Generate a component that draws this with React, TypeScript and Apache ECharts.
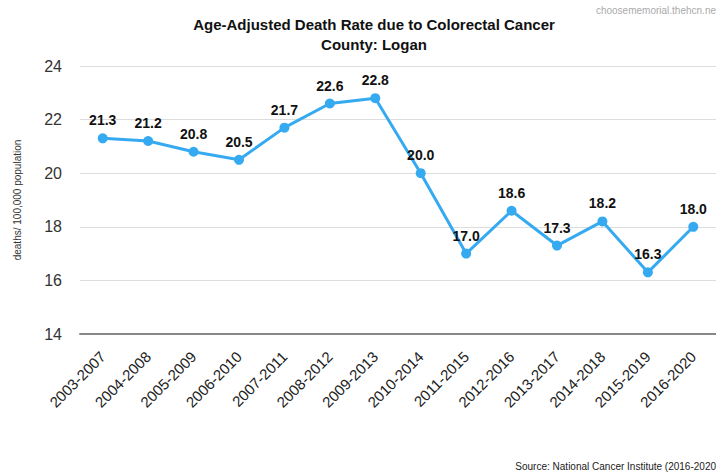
import React, { useEffect, useRef } from "react";
import * as echarts from "echarts";

const categories = [
  "2003-2007", "2004-2008", "2005-2009", "2006-2010", "2007-2011", "2008-2012", "2009-2013",
  "2010-2014", "2011-2015", "2012-2016", "2013-2017", "2014-2018", "2015-2019", "2016-2020",
];
const rates = [21.3, 21.2, 20.8, 20.5, 21.7, 22.6, 22.8, 20.0, 17.0, 18.6, 17.3, 18.2, 16.3, 18.0];
const titleLines = ["Age-Adjusted Death Rate due to Colorectal Cancer", "County: Logan"];
const yAxisName = "deaths/ 100,000 population";
const watermark = "choosememorial.thehcn.ne";
const sourceText = "Source: National Cancer Institute (2016-2020";

const FONT = "'Liberation Sans', Arial, sans-serif";

export default function App() {
  const ref = useRef<HTMLDivElement>(null);
  useEffect(() => {
    if (!ref.current) return;
    const chart = echarts.init(ref.current, null, { renderer: "svg" });
    chart.setOption({
      animation: false,
      backgroundColor: "#ffffff",
      textStyle: { fontFamily: FONT },
      title: {
        text: titleLines.join("\n"),
        left: 369,
        top: 9,
        textAlign: "center",
        textStyle: { fontFamily: FONT, fontSize: 15, fontWeight: "bold", color: "#111", lineHeight: 20 },
      },
      graphic: [
        {
          type: "text",
          right: 0,
          top: 5,
          style: { text: watermark, fill: "#aaaaaa", font: `10px ${FONT}` },
        },
        {
          type: "text",
          right: 0,
          bottom: 2,
          style: { text: sourceText, fill: "#222", font: `10px ${FONT}` },
        },
      ],
      grid: { left: 80, right: 0, top: 66, bottom: 139, containLabel: false },
      xAxis: {
        type: "category",
        data: categories,
        boundaryGap: true,
        axisLine: { show: true, lineStyle: { color: "#888888", width: 2 } },
        axisTick: { show: false },
        axisLabel: { rotate: 45, fontSize: 15, color: "#222", fontFamily: FONT, margin: 20, interval: 0 },
      },
      yAxis: {
        type: "value",
        min: 14,
        max: 24,
        interval: 2,
        name: yAxisName,
        nameLocation: "middle",
        nameGap: 58,
        nameTextStyle: { fontSize: 10, color: "#333", fontFamily: FONT },
        axisLine: { show: false },
        axisTick: { show: false },
        axisLabel: { fontSize: 16, color: "#333", fontFamily: FONT, margin: 18 },
        splitLine: { lineStyle: { color: "#dddddd", width: 1 } },
      },
      series: [
        {
          type: "line",
          data: rates,
          color: "#36aaf0",
          lineStyle: { width: 3, color: "#36aaf0" },
          symbol: "circle",
          symbolSize: 10,
          itemStyle: { color: "#36aaf0" },
          label: {
            show: true,
            position: "top",
            distance: 6,
            fontSize: 14,
            fontWeight: "bold",
            color: "#111",
            fontFamily: FONT,
            formatter: (p: any) => Number(p.value).toFixed(1),
          },
        },
      ],
    });
    return () => chart.dispose();
  }, []);
  return <div ref={ref} style={{ position: "absolute", left: 0, top: 0, width: 716, height: 473 }} />;
}
